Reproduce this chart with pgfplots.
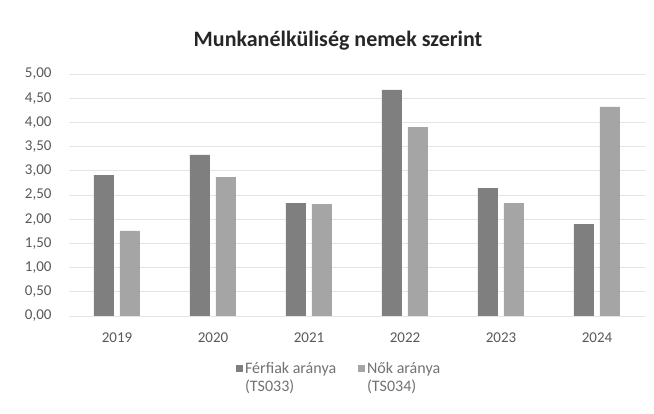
\documentclass[border=0pt]{standalone}
\usepackage{fontspec}
\setmainfont{Carlito}
\usepackage{pgfplots}
\pgfplotsset{compat=1.18}
\definecolor{ferfi}{HTML}{7F7F7F}
\definecolor{no}{HTML}{A5A5A5}
\definecolor{txt}{HTML}{595959}
\definecolor{grd}{HTML}{E4E4E4}
\begin{document}
\begin{tikzpicture}[x=1pt,y=1pt]
\path[use as bounding box] (0,0) rectangle (654,414);
\begin{axis}[
    at={(69pt,98pt)}, anchor=south west,
    scale only axis, width=576pt, height=242pt,
    ybar, bar width=20pt,
    xmin=-0.5, xmax=5.5, ymin=0, ymax=5,
    xtick={0,...,5}, xticklabels={2019,2020,2021,2022,2023,2024},
    ytick={0,0.5,...,5},
    yticklabel style={/pgf/number format/fixed, /pgf/number format/fixed zerofill,
        /pgf/number format/precision=2, /pgf/number format/use comma},
    /pgf/number format/assume math mode=true,
    ymajorgrids, grid style={grd, line width=0.8pt},
    axis x line*=bottom, axis y line*=left,
    y axis line style={draw=none},
    x axis line style={draw=grd, line width=0.8pt},
    major tick length=0pt,
    tick label style={font=\fontsize{15}{17}\selectfont, text=txt},
    xticklabel style={yshift=-13pt},
    yticklabel style={xshift=-14pt},
    title={\textbf{Munkanélküliség nemek szerint}},
    title style={font=\fontsize{22}{26}\selectfont, text=black!85, yshift=14pt, xshift=-19pt},
    legend style={at={(0.469,-0.175)}, anchor=north, draw=none, legend columns=2,
        font=\fontsize{16}{18}\selectfont, text=txt!85,
        nodes={align=left}, /tikz/every even column/.append style={column sep=20pt}},
    legend image code/.code={\fill[#1] (0pt,5.5pt) rectangle (7pt,12.5pt);},
]
\addplot[fill=ferfi, draw=none, bar shift=-13pt] coordinates {
    (0,2.91) (1,3.33) (2,2.33) (3,4.67) (4,2.64) (5,1.90)};
\addplot[fill=no, draw=none, bar shift=13pt] coordinates {
    (0,1.76) (1,2.87) (2,2.31) (3,3.90) (4,2.33) (5,4.32)};
\legend{Férfiak aránya\\(TS033), Nők aránya\\(TS034)}
\end{axis}
\end{tikzpicture}
\end{document}
